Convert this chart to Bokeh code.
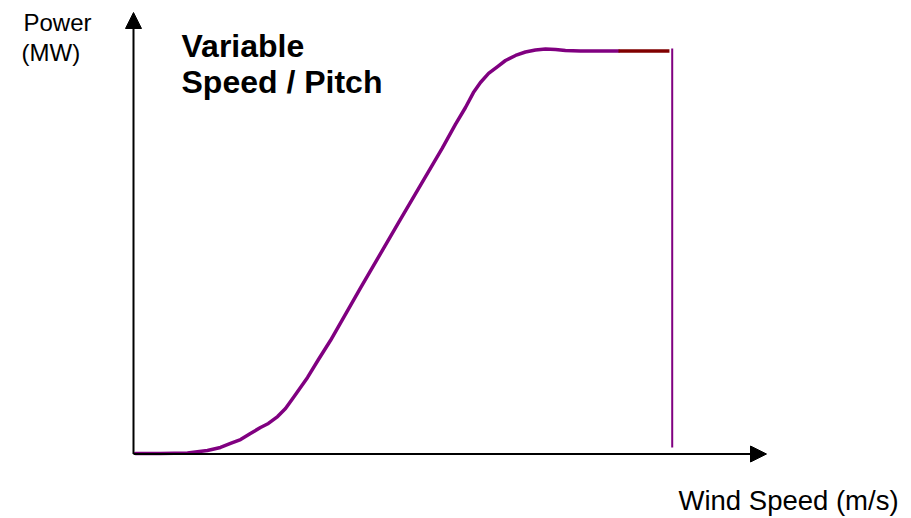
from bokeh.plotting import figure
from bokeh.models import Range1d, Arrow, NormalHead, Label
from bokeh.embed import file_html
from bokeh.resources import INLINE

# Data: wind speed (m/s) vs power (MW)
wind_speed = [0.0, 1.17, 2.43, 3.36, 3.97, 4.44, 4.91, 5.37, 5.84, 6.21, 6.64, 7.01,
              7.38, 8.04, 8.55, 9.11, 10.51, 12.38, 14.33, 14.95, 15.42, 15.79,
              16.12, 16.50, 16.92, 17.29, 17.76, 18.22, 18.69, 19.16, 19.63, 20.09,
              20.79, 21.73, 22.57]
power = [0.0, 0.0, 0.002, 0.015, 0.030, 0.050, 0.069, 0.099, 0.129, 0.149, 0.183, 0.223,
         0.278, 0.377, 0.466, 0.560, 0.82, 1.16, 1.512, 1.631, 1.715, 1.789,
         1.839, 1.884, 1.918, 1.948, 1.973, 1.990, 2.000, 2.005, 2.003, 1.998,
         1.995, 1.995, 1.995]
rated_speed = [22.57, 24.95]
rated_power = [1.995, 1.995]
cutout_speed = [25.08, 25.08]
cutout_power = [0.03, 2.007]

# pixel mapping helpers (layout only)
OFF = 0
X0, Y0 = 135.0, 453.0      # picture pixel of origin
SX, SY = 21.4, 201.75      # px per m/s, px per MW
W, H = 910, 518
def dx(px):
    return (px - X0) / SX
def dy(py):
    return (Y0 - py) / SY

p = figure(width=W, height=H, output_backend="svg", toolbar_location=None,
           x_range=Range1d(dx(OFF), dx(OFF + W)), y_range=Range1d(dy(OFF + H), dy(OFF)),
           x_axis_location=None, y_axis_location=None, min_border=0)
p.outline_line_color = None
p.xgrid.visible = False
p.ygrid.visible = False
p.background_fill_color = "white"

# axes with arrowheads
p.add_layout(Arrow(end=NormalHead(size=16, fill_color="black", line_color="black", line_width=1),
                   x_start=dx(133), y_start=dy(453.5), x_end=dx(766), y_end=dy(453.5),
                   line_color="black", line_width=2))
p.add_layout(Arrow(end=NormalHead(size=16, fill_color="black", line_color="black", line_width=1),
                   x_start=dx(133), y_start=dy(453.5), x_end=dx(133), y_end=dy(12),
                   line_color="black", line_width=2))

p.line(wind_speed, power, line_color="#800080", line_width=3.5, line_join="round", line_cap="round")
p.line(rated_speed, rated_power, line_color="#800000", line_width=3.5)
p.line(cutout_speed, cutout_power, line_color="#800080", line_width=2)

font = "Liberation Sans"
def label(txt, px, py, size, bold=False):
    p.add_layout(Label(x=dx(px), y=dy(py), text=txt, text_font=font,
                       text_font_size=f"{size}px", text_color="black",
                       text_font_style="bold" if bold else "normal",
                       text_align="left", text_baseline="alphabetic"))

label("Power", 23, 22, 24)
label("(MW)", 21, 52, 24)
label("Variable", 181, 45, 32, True)
label("Speed / Pitch", 181, 81, 32, True)
label("Wind Speed (m/s)", 678, 500, 27.5)

open("out.html", "w").write(file_html(p, INLINE))
